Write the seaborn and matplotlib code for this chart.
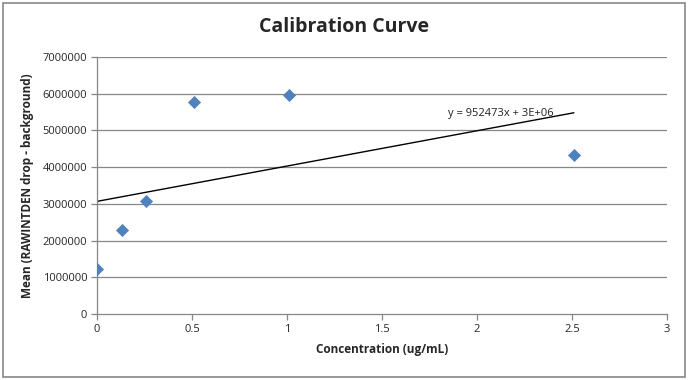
import numpy as np
import pandas as pd
import seaborn as sns
import matplotlib
matplotlib.use("Agg")
import matplotlib.pyplot as plt
from matplotlib.patches import Rectangle

concentration = [0.0, 0.13, 0.26, 0.51, 1.01, 2.51]
mean_signal = [1226000, 2290000, 3080000, 5770000, 5960000, 4330000]
x_ticks = [0, 0.5, 1, 1.5, 2, 2.5, 3]
y_ticks = [0, 1000000, 2000000, 3000000, 4000000, 5000000, 6000000, 7000000]
equation_label = "y = 952473x + 3E+06"

df = pd.DataFrame({"Concentration": concentration, "Mean": mean_signal})

sns.set_theme(style="white")
plt.rcParams['font.family'] = ['Open Sans', 'DejaVu Sans']

fig = plt.figure(figsize=(6.89, 3.8), dpi=100)
ax = fig.add_axes([97/689, 1-314/380, (667-97)/689, (314-57)/380])

grid_c = "#878787"
for yt in y_ticks[1:]:
    ax.axhline(yt, color=grid_c, lw=0.9, zorder=0)

sns.scatterplot(data=df, x="Concentration", y="Mean", marker="D", s=38,
                color="#4F81BD", edgecolor="#4F81BD", linewidth=0.5, ax=ax, zorder=3)

slope, intercept = np.polyfit(concentration, mean_signal, 1)
xs = np.array([min(concentration), max(concentration)])
sns.lineplot(x=xs, y=slope * xs + intercept, color="black", lw=1.0, ax=ax, zorder=2)

ax.text(1.85, 5.47e6, equation_label, fontsize=8, va="center", ha="left", color="#222222")

ax.set_xlim(0, 3)
ax.set_ylim(0, 7000000)
ax.set_xticks(x_ticks)
ax.set_xticklabels(["0", "0.5", "1", "1.5", "2", "2.5", "3"])
ax.set_yticks(y_ticks)
ax.set_yticklabels([str(v) for v in y_ticks])
ax.tick_params(axis="both", labelsize=8, length=4, width=0.9, color=grid_c,
               direction="out", pad=3, bottom=True, left=True)

for s in ["top", "right"]:
    ax.spines[s].set_visible(False)
for s in ["left", "bottom"]:
    ax.spines[s].set_color(grid_c)
    ax.spines[s].set_linewidth(0.9)

ax.set_xlabel("Concentration (ug/mL)", fontsize=8.5, fontweight="bold", labelpad=6)
ax.set_ylabel("Mean (RAWINTDEN drop - background)", fontsize=8.5, fontweight="bold", labelpad=6)

fig.text(0.5, 1-27/380, "Calibration Curve", fontsize=14, fontweight="bold", ha="center", va="center")

fig.patches.append(Rectangle((3/689, 3/380), 682/689, 374/380, transform=fig.transFigure,
                             fill=False, edgecolor="#888888", lw=1.2))

fig.savefig("out.png", dpi=100)
